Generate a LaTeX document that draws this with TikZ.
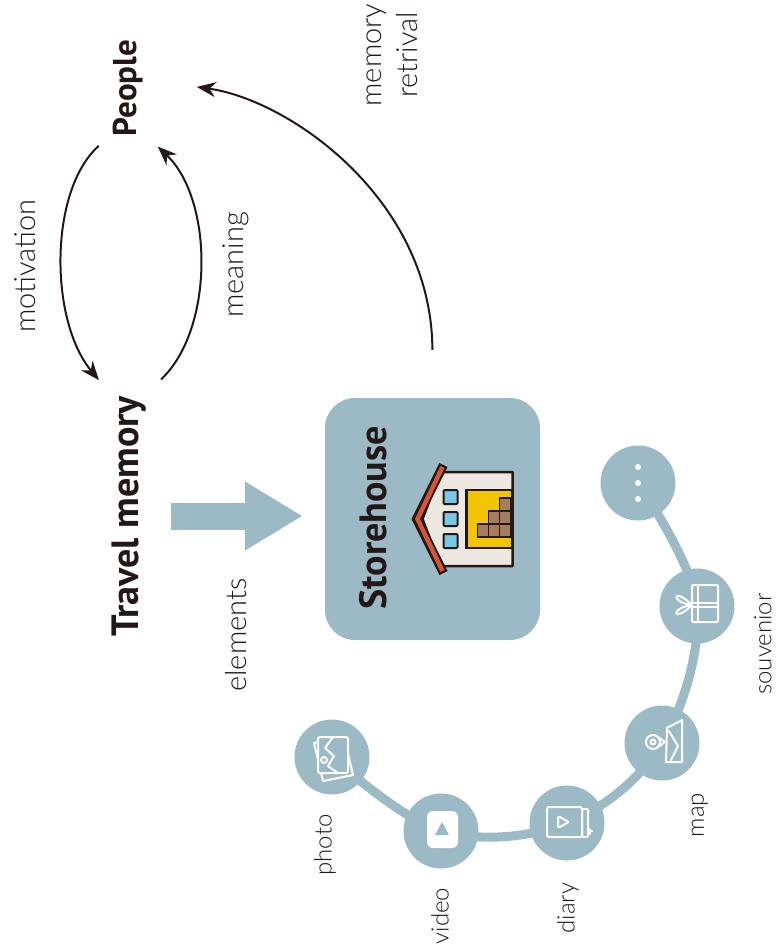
\documentclass[tikz,border=0pt]{standalone}
\usepackage{fontspec}
\setmainfont{Lato}
\newfontfamily\thinfont{Lato Light}
\newfontfamily\headfont{PT Sans}
\usetikzlibrary{arrows.meta,backgrounds,calc}
\definecolor{steel}{RGB}{155,186,198}
\definecolor{ink}{RGB}{35,24,21}
\definecolor{roofred}{RGB}{214,84,56}
\definecolor{wallcream}{RGB}{236,232,224}
\definecolor{winblue}{RGB}{120,200,230}
\definecolor{gold}{RGB}{242,197,0}
\definecolor{crate}{RGB}{166,124,92}

\begin{document}
\begin{tikzpicture}[x=1pt,y=-1pt,
  heading/.style={rotate=90,font=\headfont\bfseries\fontsize{33}{33}\selectfont,text=ink,inner sep=0pt},
  note/.style={rotate=90,font=\thinfont\fontsize{29}{36}\selectfont,text=ink,align=center},
  itemnote/.style={note,font=\thinfont\fontsize{24}{24}\selectfont},
  turn/.style={ink,line width=2pt,-{Stealth[length=19pt,width=15pt]}},
  item/.style={circle,fill=steel,minimum size=75pt,inner sep=0pt},
  icon/.style={white,line width=2pt,line join=round,line cap=round}]
\useasboundingbox (0,0) rectangle (778,952);

\node[heading,minimum width=110pt,minimum height=52pt] (people) at (128,88) {People};
\node[heading,minimum width=262pt,minimum height=52pt,font=\headfont\bfseries\fontsize{38}{38}\selectfont] (travel) at (129,516) {Travel memory};
\node[fill=steel,rounded corners=30pt,minimum width=215pt,minimum height=242pt] (store) at (432.5,519) {};
\node[heading,font=\headfont\bfseries\fontsize{38}{38}\selectfont] (storetext) at (373,518) {Storehouse};

\draw[turn,shorten <=4pt,shorten >=6pt] (people.north west) .. controls (49,190) and (49,320) .. (travel.north east);
\draw[turn,shorten <=8pt,shorten >=5pt] (travel.south east) .. controls (214,330) and (214,200) .. (people.south west);
\draw[turn,shorten <=48pt,shorten >=43pt] (store.north) .. controls (432,200) and (290,100) .. (people.-75);
\draw[steel,line width=27pt,-{Triangle[length=58pt,width=65pt]},shorten <=16pt,shorten >=22pt]
  (travel.south) -- (travel.south -| store.west);

\node[note] (motivation) at (25,266) {motivation};
\node[note] (meaning) at (236,265) {meaning};
\node[note] (retrieval) at (392,55) {memory\\retrival};
\node[note] (elements) at (236,635) {elements};

% storehouse
\begin{scope}[shift={(store.center)}]
  \draw[ink,fill=wallcream,line width=2.5pt,line join=round] (-10,0) -- (8,-47) -- (80,-47) -- (80,47) -- (8,47) -- cycle;
  \draw[ink,line width=9pt,line join=miter] (11,-54) -- (-16,0) -- (11,54);
  \draw[roofred,line width=4.5pt,line join=miter] (10,-52) -- (-15,0) -- (10,52);
  \foreach \y in {-29,-7,15}
    \draw[ink,fill=winblue,line width=2pt,rounded corners=1pt] (11,\y) rectangle (25,\y+14);
  \draw[ink,fill=gold,line width=2.5pt] (34,-29) rectangle (80,29);
  \foreach \x/\y in {67/-21,67/-8,67/5,56/-8,56/5,45/5}
    \draw[ink,fill=crate,line width=1.5pt] (\x,\y) rectangle (\x+11,\y+13);
\end{scope}

% elements
\node[item] (photo) at (332,757) {};
\node[item] (video) at (441,831) {};
\node[item] (diary) at (567,823) {};
\node[item] (map) at (662,743) {};
\node[item] (gift) at (697,606) {};
\node[item] (more) at (638,483) {};
\begin{scope}[on background layer]
  \draw[steel,line width=9pt] plot[smooth,tension=0.6] coordinates
    {(photo.center) (video.center) (diary.center) (map.center) (gift.center) (more.center)};
\end{scope}

\node[itemnote] at ($(photo)+(-7,88)$) {photo};
\node[itemnote] at ($(video)+(-1,85)$) {video};
\node[itemnote] at ($(diary)+(1,85)$) {diary};
\node[itemnote] at ($(map)+(38,72)$) {map};
\node[itemnote] at ($(gift)+(66,38)$) {souvenior};

\begin{scope}[shift={(photo.center)}]
  \draw[icon,fill=steel] (-18,-14) -- (12,-20) -- (21,18) -- (-9,24) -- cycle;
  \draw[icon,fill=steel,rounded corners=1.5pt] (-14,-20) rectangle (16,16);
  \draw[icon] (1,-20) -- (-7,-9) -- (2,-1) -- (-4,9) -- (6,16);
  \draw[icon] (-8,3) circle (3pt);
\end{scope}
\begin{scope}[shift={(video.center)}]
  \fill[white,rounded corners=6pt] (-14,-20) rectangle (17,17);
  \fill[steel] (1,-9) -- (-6,4) -- (8,4) -- cycle;
\end{scope}
\begin{scope}[shift={(diary.center)}]
  \draw[icon,rounded corners=2pt] (-20,-16) rectangle (15,14);
  \draw[icon,rounded corners=1pt] (15,-14) rectangle (21,14);
  \draw[icon] (21,8) -- (25,8) (23,6) -- (23,11);
  \draw[icon,rounded corners=2pt] (-9,-7) -- (2,-1) -- (-9,5) -- cycle;
\end{scope}
\begin{scope}[shift={(map.center)}]
  \draw[icon] (5,-15) -- (20,-23) -- (20,19) -- (4,19) -- cycle;
  \draw[icon] (7,-12) -- (16,3) -- (9,17);
  \draw[icon] (-9,-1) circle (7pt);
  \draw[icon] (-9,-1) circle (2.5pt);
  \draw[icon] (-4,-6) -- (3,-1) -- (-4,4);
\end{scope}
\begin{scope}[shift={(gift.center)}]
  \draw[icon,rounded corners=1pt] (-5,-21) rectangle (21,16);
  \draw[icon] (1,-21) -- (1,16);
  \draw[icon] (-5,-3) -- (21,-3) (-5,1) -- (21,1);
  \draw[icon] (-5,-1) .. controls (-24,-20) and (-28,-4) .. (-5,-1);
  \draw[icon] (-5,-1) .. controls (-24,18) and (-28,2) .. (-5,-1);
\end{scope}
\foreach \y in {-16,0,16}
  \fill[white] ($(more)+(0,\y)$) circle (3pt);
\end{tikzpicture}
\end{document}
